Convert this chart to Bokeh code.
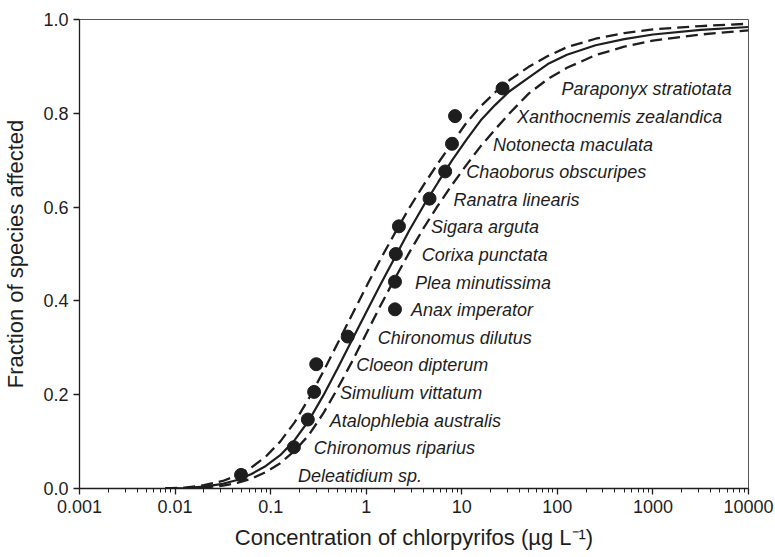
from bokeh.plotting import figure
from bokeh.models import FixedTicker, Range1d, ColumnDataSource
from bokeh.core.properties import value
from bokeh.embed import file_html
from bokeh.resources import INLINE

# ---- data ----
species = ["Deleatidium sp.", "Chironomus riparius", "Atalophlebia australis",
           "Simulium vittatum", "Cloeon dipterum", "Chironomus dilutus",
           "Anax imperator", "Plea minutissima", "Corixa punctata",
           "Sigara arguta", "Ranatra linearis", "Chaoborus obscuripes",
           "Notonecta maculata", "Xanthocnemis zealandica", "Paraponyx stratiotata"]
conc = [0.049, 0.175, 0.245, 0.285, 0.30, 0.64, 2.0, 2.0, 2.04, 2.2,
        4.6, 6.7, 7.9, 8.5, 26.7]
fraction = [0.029, 0.088, 0.147, 0.206, 0.265, 0.324, 0.382, 0.441, 0.500,
            0.559, 0.618, 0.676, 0.735, 0.794, 0.853]

curve_conc = [0.0079, 0.0126, 0.020, 0.0316, 0.0447, 0.0631, 0.0891, 0.126,
              0.178, 0.251, 0.355, 0.501, 0.708, 1.0, 1.41, 2.0, 2.82, 3.98,
              5.62, 7.94, 11.2, 15.8, 22.4, 31.6, 50.1, 79.4, 126, 251, 501,
              1000, 3162, 10000]
curve_fit = [0.000, 0.001, 0.004, 0.010, 0.018, 0.031, 0.048, 0.071, 0.103,
             0.145, 0.198, 0.256, 0.316, 0.376, 0.435, 0.493, 0.550, 0.603,
             0.652, 0.700, 0.744, 0.785, 0.818, 0.847, 0.876, 0.905, 0.925,
             0.945, 0.958, 0.968, 0.978, 0.984]
curve_upper = [0.000, 0.002, 0.007, 0.016, 0.028, 0.045, 0.068, 0.100, 0.141,
               0.192, 0.249, 0.309, 0.370, 0.430, 0.489, 0.545, 0.598, 0.647,
               0.693, 0.737, 0.780, 0.815, 0.845, 0.871, 0.899, 0.922, 0.941,
               0.959, 0.971, 0.979, 0.986, 0.991]
curve_lower = [0.000, 0.000, 0.002, 0.006, 0.012, 0.021, 0.035, 0.054, 0.080,
               0.114, 0.160, 0.213, 0.270, 0.330, 0.390, 0.448, 0.503, 0.555,
               0.603, 0.648, 0.690, 0.730, 0.766, 0.800, 0.842, 0.873, 0.897,
               0.924, 0.942, 0.955, 0.968, 0.977]

x_ticks = [0.001, 0.01, 0.1, 1, 10, 100, 1000, 10000]
x_tick_labels = ["0.001", "0.01", "0.1", "1", "10", "100", "1000", "10000"]
y_ticks = [0.0, 0.2, 0.4, 0.6, 0.8, 1.0]
y_tick_labels = ["0.0", "0.2", "0.4", "0.6", "0.8", "1.0"]

# ---- layout (label pixel offsets from their point) ----
label_dx = [57, 20, 22, 26, 40, 30, 16, 20, 26, 32, 24, 21, 41, 62, 59]

FONT = "Liberation Sans"
INK = "#1e1e1e"

p = figure(width=775, height=557, x_axis_type="log",
           x_range=Range1d(0.001, 10000), y_range=Range1d(0, 1),
           output_backend="svg", toolbar_location=None,
           min_border_left=78, min_border_right=27,
           min_border_top=19, min_border_bottom=69,
           background_fill_color="white", border_fill_color="white")

p.xgrid.visible = False
p.ygrid.visible = False
p.outline_line_color = "#555555"
p.outline_line_width = 1

# curves
p.line(curve_conc, curve_upper, line_color=INK, line_width=2.3, line_dash="12 6")
p.line(curve_conc, curve_lower, line_color=INK, line_width=2.3, line_dash="12 6")
p.line(curve_conc, curve_fit, line_color=INK, line_width=2.2)

src = ColumnDataSource(dict(conc=conc, fraction=fraction, species=species, dx=label_dx))
p.scatter("conc", "fraction", source=src, size=13, fill_color=INK, line_color=INK)
p.text("conc", "fraction", text="species", source=src, x_offset="dx", y_offset=1,
       text_align="left", text_baseline="middle",
       text_font=value(FONT), text_font_style="italic", text_font_size="18px",
       text_color=INK)

# axes
minor = [m * 10.0 ** e for e in range(-3, 4) for m in range(2, 10)]
p.xaxis.ticker = FixedTicker(ticks=x_ticks, minor_ticks=minor)
p.xaxis.major_label_overrides = {t: l for t, l in zip(x_ticks, x_tick_labels)}
p.yaxis.ticker = FixedTicker(ticks=y_ticks, minor_ticks=[])
p.yaxis.major_label_overrides = {t: l for t, l in zip(y_ticks, y_tick_labels)}

for ax in (p.xaxis[0], p.yaxis[0]):
    ax.axis_line_color = INK
    ax.axis_line_width = 1.3
    ax.major_tick_line_color = INK
    ax.major_tick_line_width = 1.3
    ax.minor_tick_line_color = INK
    ax.minor_tick_line_width = 1
    ax.major_tick_in = 0
    ax.major_tick_out = 6
    ax.minor_tick_in = 0
    ax.minor_tick_out = 4
    ax.major_label_text_font = FONT
    ax.major_label_text_font_size = "18px"
    ax.major_label_text_color = INK
    ax.axis_label_text_font = FONT
    ax.axis_label_text_font_size = "22px"
    ax.axis_label_text_font_style = "normal"
    ax.axis_label_text_color = INK
    ax.major_label_standoff = 5

p.xaxis.axis_label = "Concentration of chlorpyrifos (\u00b5g L\u207b\u00b9)"
p.yaxis.axis_label = "Fraction of species affected"
p.xaxis.axis_label_standoff = 9
p.yaxis.axis_label_standoff = 12

open("out.html", "w").write(file_html(p, INLINE))
